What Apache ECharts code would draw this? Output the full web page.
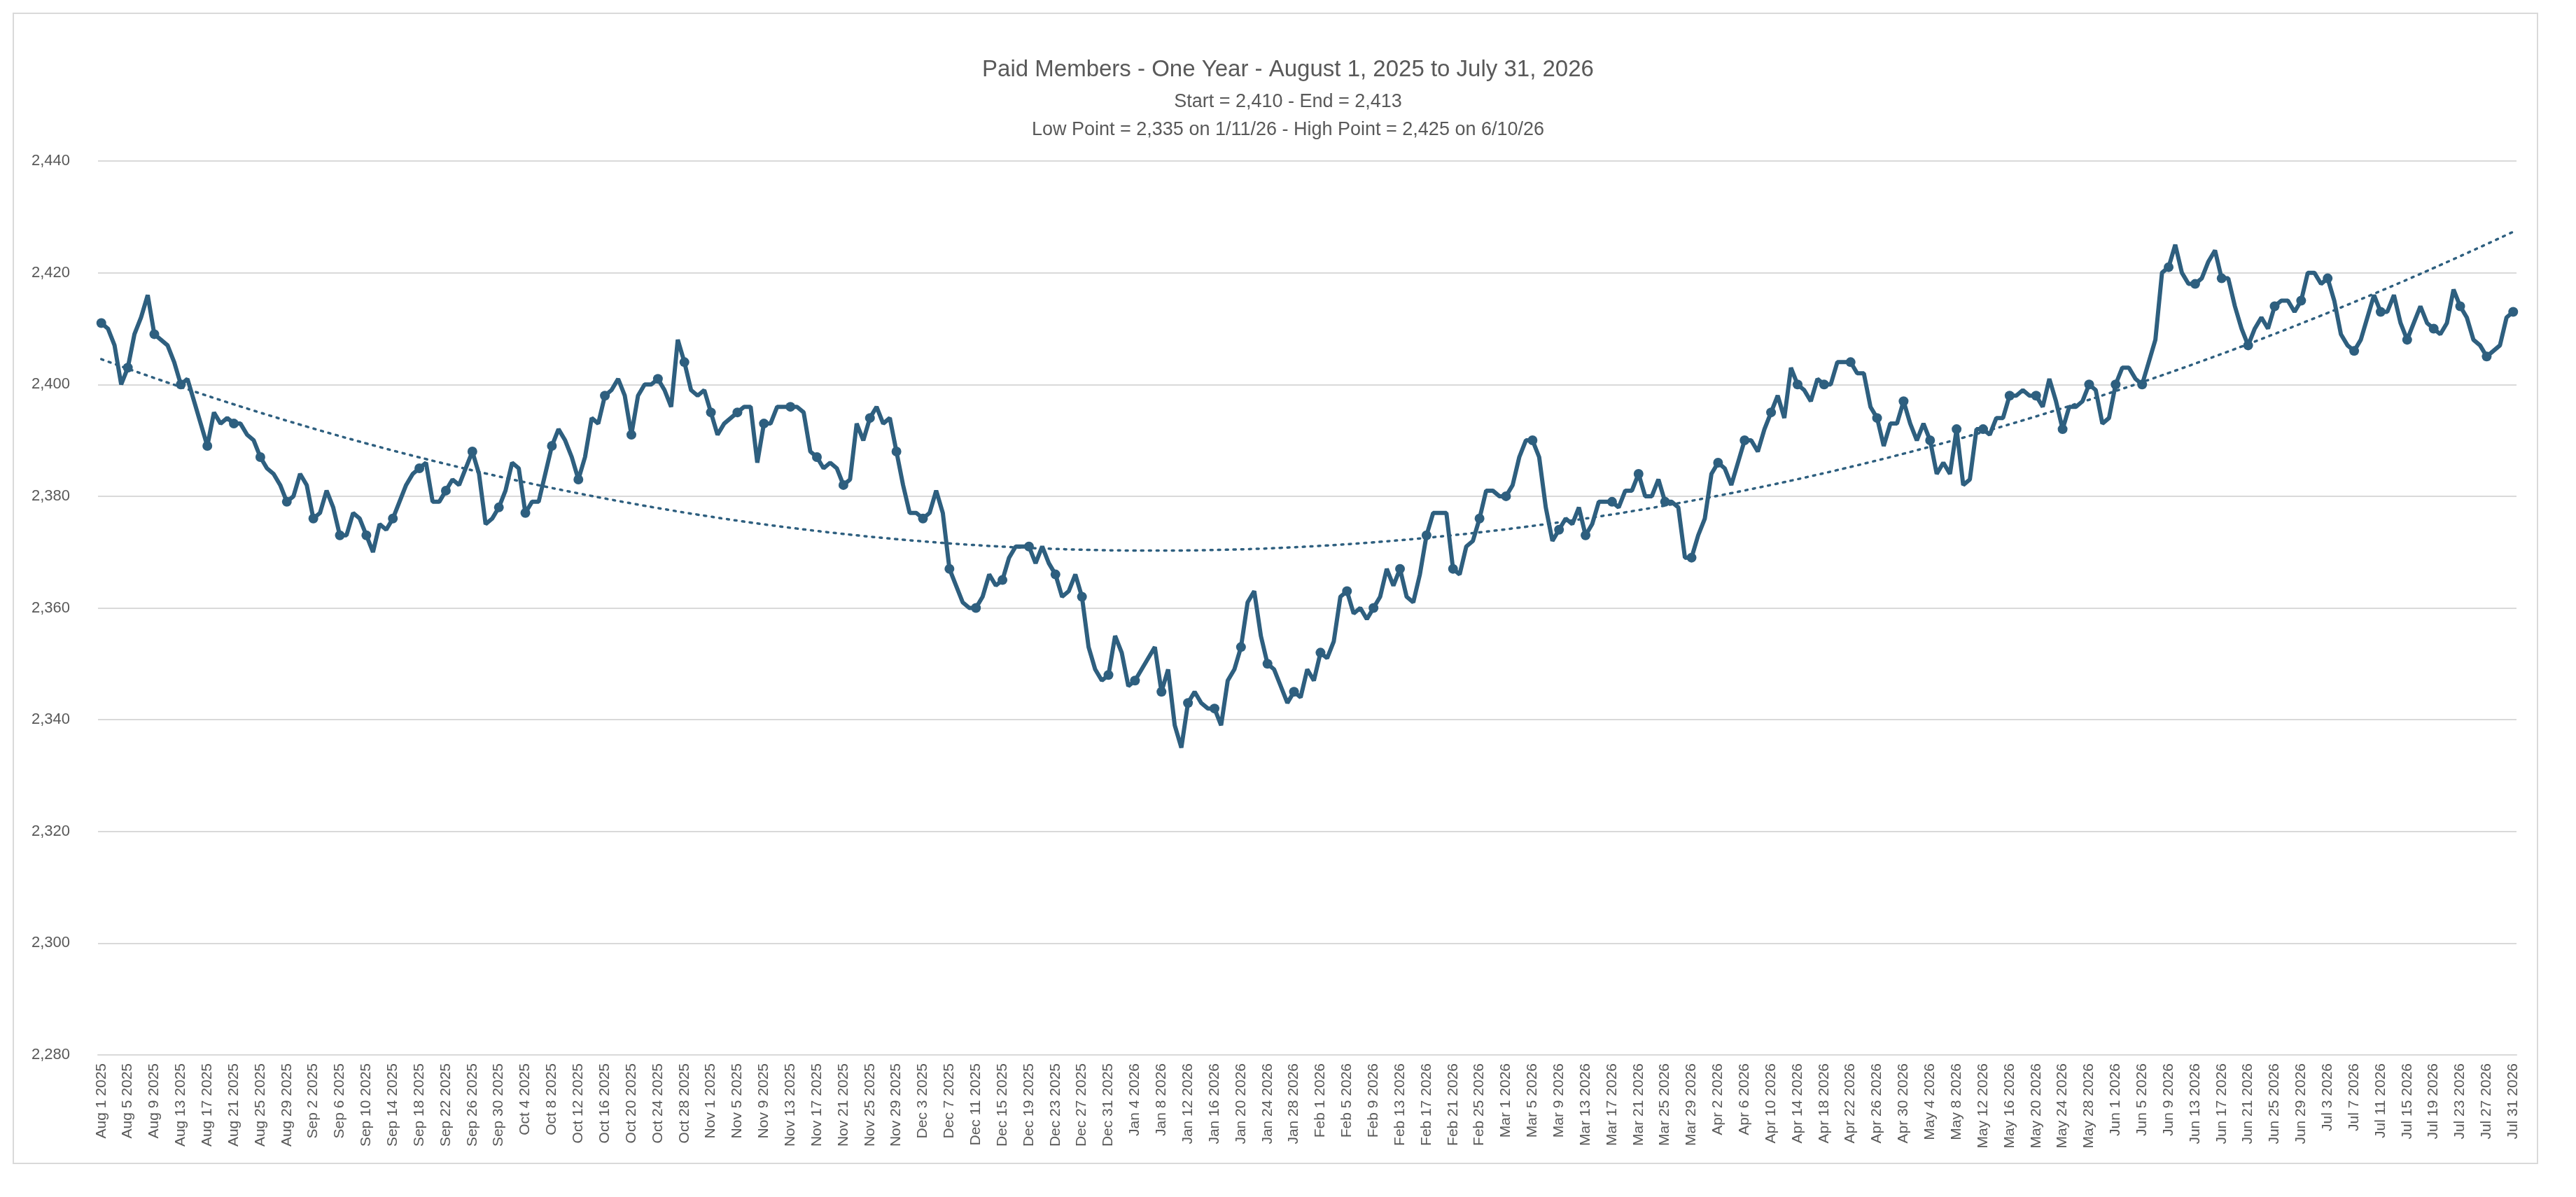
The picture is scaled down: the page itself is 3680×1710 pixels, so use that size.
<!DOCTYPE html>
<html>
<head>
<meta charset="utf-8">
<script src="https://cdn.jsdelivr.net/npm/echarts@6/dist/echarts.min.js"></script>
<style>
  html, body { margin: 0; padding: 0; background: #fff; }
  #chart { width: 3680px; height: 1710px; }
</style>
</head>
<body>
<div id="chart"></div>
<script>
// daily paid member counts, Aug 1 2025 .. Jul 31 2026
var members = [
  2411, 2410, 2407, 2400, 2403, 2409, 2412, 2416, 2409, 2408, 2407, 2404, 2400, 2401, 2397, 2393,
  2389, 2395, 2393, 2394, 2393, 2393, 2391, 2390, 2387, 2385, 2384, 2382, 2379, 2380, 2384, 2382,
  2376, 2377, 2381, 2378, 2373, 2373, 2377, 2376, 2373, 2370, 2375, 2374, 2376,
  2379, 2382, 2384, 2385, 2386, 2379, 2379, 2381, 2383, 2382, 2385, 2388, 2384, 2375, 2376, 2378,
  2381, 2386, 2385, 2377, 2379, 2379, 2384, 2389, 2392, 2390, 2387, 2383, 2387, 2394, 2393, 2398,
  2399, 2401, 2398, 2391, 2398, 2400, 2400, 2401, 2399, 2396, 2408, 2404, 2399, 2398,
  2399, 2395, 2391, 2393, 2394, 2395, 2396, 2396, 2386, 2393, 2393, 2396, 2396, 2396, 2396, 2395,
  2388, 2387, 2385, 2386, 2385, 2382, 2383, 2393, 2390, 2394, 2396, 2393, 2394, 2388, 2382, 2377,
  2377, 2376, 2377, 2381, 2377, 2367,
  2364, 2361, 2360, 2360, 2362, 2366,
  2364, 2365, 2369, 2371, 2371, 2371, 2368, 2371, 2368, 2366, 2362, 2363, 2366, 2362, 2353, 2349,
  2347, 2348, 2355, 2352, 2346, 2347, 2349, 2351, 2353, 2345, 2349, 2339, 2335, 2343, 2345, 2343,
  2342, 2342, 2339, 2347, 2349, 2353, 2361, 2363, 2355, 2350, 2349, 2346, 2343, 2345, 2344, 2349,
  2347,
  2352, 2351, 2354, 2362, 2363, 2359, 2360, 2358, 2360, 2362, 2367, 2364, 2367, 2362, 2361, 2366,
  2373, 2377, 2377, 2377, 2367, 2366, 2371, 2372, 2376, 2381, 2381, 2380, 2380, 2382, 2387, 2390,
  2390, 2387, 2378, 2372, 2374, 2376, 2375, 2378, 2373, 2375, 2379, 2379, 2379, 2378,
  2381, 2381, 2384, 2380, 2380, 2383, 2379, 2379, 2378, 2369, 2369, 2373, 2376, 2384, 2386, 2385,
  2382, 2386, 2390, 2390, 2388, 2392, 2395, 2398, 2394, 2403, 2400, 2399, 2397, 2401, 2400, 2400,
  2404, 2404, 2404, 2402, 2402, 2396, 2394, 2389, 2393, 2393, 2397, 2393, 2390, 2393, 2390,
  2384, 2386, 2384, 2392, 2382, 2383, 2392, 2392, 2391, 2394, 2394, 2398, 2398, 2399, 2398, 2398,
  2396, 2401, 2397, 2392, 2396, 2396, 2397, 2400, 2399, 2393, 2394, 2400, 2403, 2403, 2401, 2400,
  2404, 2408, 2420, 2421, 2425, 2420, 2418, 2418, 2419, 2422, 2424, 2419, 2419, 2414,
  2410, 2407, 2410, 2412, 2410, 2414, 2415, 2415, 2413, 2415, 2420, 2420, 2418, 2419, 2415, 2409,
  2407, 2406, 2408, 2412, 2416, 2413, 2413, 2416, 2411, 2408, 2411, 2414, 2411, 2410, 2409, 2411,
  2417, 2414, 2412, 2408, 2407, 2405, 2406, 2407, 2412, 2413
];

var titleText = 'Paid Members - One Year - August 1, 2025 to July 31, 2026';
var subText = 'Start = 2,410 - End = 2,413\nLow Point = 2,335 on 1/11/26 - High Point = 2,425 on 6/10/26';
var monthNames = ['Jan', 'Feb', 'Mar', 'Apr', 'May', 'Jun', 'Jul', 'Aug', 'Sep', 'Oct', 'Nov', 'Dec'];

// category labels, one per day
var days = [];
for (var i = 0; i < members.length; i++) {
  var d = new Date(Date.UTC(2025, 7, 1 + i));
  days.push(monthNames[d.getUTCMonth()] + ' ' + d.getUTCDate() + ' ' + d.getUTCFullYear());
}

// polynomial (order 2) trend line, least squares
function polyTrend(ys) {
  var n = ys.length, s = [0, 0, 0, 0, 0], t = [0, 0, 0];
  for (var i = 0; i < n; i++) {
    var x = i + 1, p = 1;
    for (var k = 0; k < 5; k++) { s[k] += p; if (k < 3) t[k] += p * ys[i]; p *= x; }
  }
  var m = [[s[0], s[1], s[2], t[0]], [s[1], s[2], s[3], t[1]], [s[2], s[3], s[4], t[2]]];
  for (var c = 0; c < 3; c++) {
    for (var r = c + 1; r < 3; r++) {
      var f = m[r][c] / m[c][c];
      for (var k = c; k < 4; k++) m[r][k] -= f * m[c][k];
    }
  }
  var b = [0, 0, 0];
  for (var r = 2; r >= 0; r--) {
    var v = m[r][3];
    for (var k = r + 1; k < 3; k++) v -= m[r][k] * b[k];
    b[r] = v / m[r][r];
  }
  return ys.map(function (y, i) { var x = i + 1; return b[0] + b[1] * x + b[2] * x * x; });
}
var trend = polyTrend(members);

var chart = echarts.init(document.getElementById('chart'));
chart.setOption({
  backgroundColor: '#fff',
  animation: false,
  title: {
    text: titleText,
    subtext: subText,
    left: 'center',
    top: 78,
    itemGap: 10,
    textStyle: { fontFamily: 'Liberation Sans', fontSize: 33, fontWeight: 'normal', color: '#595959' },
    subtextStyle: { fontFamily: 'Liberation Sans', fontSize: 27, color: '#595959', lineHeight: 40 }
  },
  graphic: [{
    type: 'rect',
    shape: { x: 19, y: 19, width: 3606, height: 1643 },
    style: { fill: 'none', stroke: '#d9d9d9', lineWidth: 2 }
  }],
  grid: { left: 140, right: 85, top: 230, bottom: 203 },
  xAxis: {
    type: 'category',
    data: days,
    boundaryGap: true,
    axisLine: { lineStyle: { color: '#d9d9d9', width: 2 } },
    axisTick: { show: false },
    axisLabel: {
      interval: 3,
      rotate: 90,
      fontFamily: 'Liberation Sans',
      fontSize: 21,
      color: '#595959',
      margin: 12
    }
  },
  yAxis: {
    type: 'value',
    min: 2280,
    max: 2440,
    interval: 20,
    axisLine: { show: false },
    axisTick: { show: false },
    splitLine: { lineStyle: { color: '#d9d9d9', width: 2 } },
    axisLabel: { fontFamily: 'Liberation Sans', fontSize: 22, color: '#595959', margin: 40 }
  },
  series: [{
    name: 'Paid Members',
    type: 'line',
    data: members,
    symbol: 'circle',
    symbolSize: 14,
    lineStyle: { color: '#2e5f7f', width: 6 },
    itemStyle: { color: '#2e5f7f' },
    z: 3
  }, {
    name: 'Trend',
    type: 'line',
    data: trend,
    symbol: 'none',
    smooth: true,
    lineStyle: { color: '#2e5f7f', width: 3.5, type: [3, 8], cap: 'round' },
    z: 2
  }]
});
</script>
</body>
</html>
